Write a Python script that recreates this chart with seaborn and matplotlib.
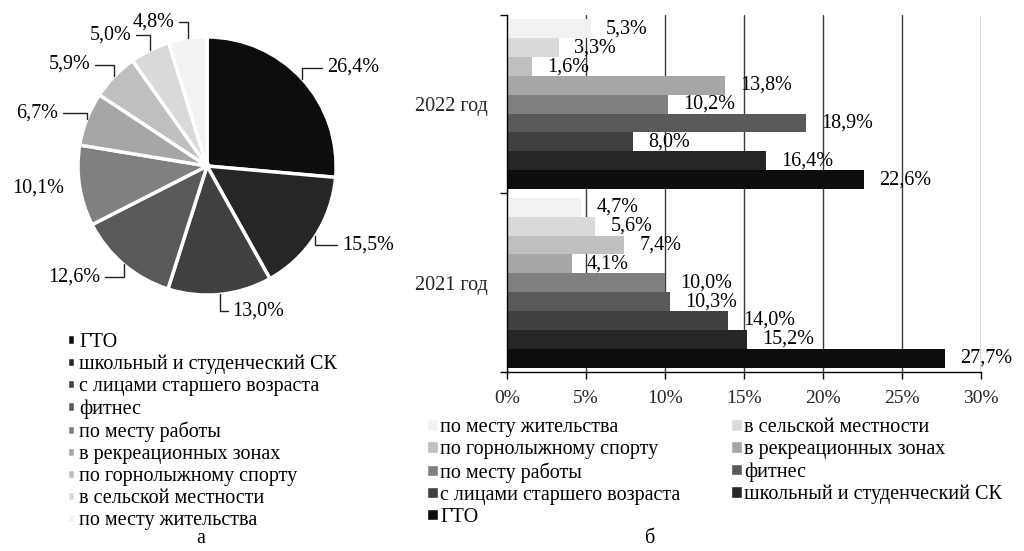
import numpy as np
import pandas as pd
import seaborn as sns
import matplotlib.pyplot as plt
from matplotlib.patches import Patch
from matplotlib.ticker import FuncFormatter

# категории (от ГТО к "по месту жительства")
categories = ["ГТО", "школьный и студенческий СК", "с лицами старшего возраста",
              "фитнес", "по месту работы", "в рекреационных зонах",
              "по горнолыжному спорту", "в сельской местности", "по месту жительства"]
colors = ["#0d0d0d", "#262626", "#404040", "#595959", "#808080",
          "#a6a6a6", "#bfbfbf", "#d9d9d9", "#f2f2f2"]

# а) круговая диаграмма
pie_values = [26.4, 15.5, 13.0, 12.6, 10.1, 6.7, 5.9, 5.0, 4.8]

# б) по годам
years = ["2022 год", "2021 год"]
values_2022 = [22.6, 16.4, 8.0, 18.9, 10.2, 13.8, 1.6, 3.3, 5.3]
values_2021 = [27.7, 15.2, 14.0, 10.3, 10.0, 4.1, 7.4, 5.6, 4.7]
x_ticks = [0, 5, 10, 15, 20, 25, 30]

FS = 14.5


def fmt_pct(v):
    return f"{v:.1f}%".replace(".", ",")


sns.set_theme(style="white")
plt.rcParams["font.family"] = ["Liberation Serif", "DejaVu Serif"]
plt.rcParams["font.size"] = FS
plt.rcParams["text.color"] = "#000000"

fig = plt.figure(figsize=(10.24, 5.51), dpi=100)

# ---- пирог ----
ax1 = fig.add_axes([0.0264, 0.372, 0.3516, 0.6534])
wedges, _ = ax1.pie(pie_values, colors=colors, startangle=90, counterclock=False,
                    wedgeprops=dict(edgecolor="white", linewidth=2.5))
for w, v in zip(wedges, pie_values):
    ang = np.deg2rad((w.theta1 + w.theta2) / 2)
    cx, cy = np.cos(ang), np.sin(ang)
    side = 1 if cx >= 0 else -1
    ha = "left" if side > 0 else "right"
    if abs(cy) < 0.2:
        # подпись рядом с сектором, без выноски
        ax1.text(1.12 * cx, 1.12 * cy, fmt_pct(v), ha=ha, va="center", fontsize=FS)
        continue
    tx, ty = 1.15 * cx + 0.08 * side, 1.13 * cy
    ax1.annotate(fmt_pct(v), xy=(cx, cy), xytext=(tx, ty), ha=ha, va="center",
                 fontsize=FS,
                 arrowprops=dict(arrowstyle="-", color="#222222", lw=1,
                                 connectionstyle="angle,angleA=0,angleB=90,rad=0",
                                 shrinkA=1, shrinkB=0))
ax1.set_xlim(-1.395, 1.395)
ax1.set_ylim(-1.395, 1.395)
ax1.set_aspect("equal")
ax1.axis("off")

fig.legend(wedges, categories, loc="upper left", bbox_to_anchor=(0.065, 0.396),
           frameon=False, fontsize=FS, handlelength=0.42, handleheight=0.42,
           handletextpad=0.22, labelspacing=0.15, borderpad=0, borderaxespad=0)

# ---- столбцы ----
ax2 = fig.add_axes([0.4951, 0.3249, 0.4629, 0.6479])
df = pd.DataFrame({
    "year": np.repeat(years, len(categories)),
    "category": categories * 2,
    "value": values_2022 + values_2021,
})
hue_order = categories[::-1]
palette = dict(zip(categories, colors))
sns.barplot(data=df, x="value", y="year", hue="category", order=years,
            hue_order=hue_order, palette=palette, orient="h", width=0.95,
            saturation=1, legend=False, linewidth=0, ax=ax2)

for cont in ax2.containers:
    ax2.bar_label(cont, labels=[fmt_pct(v) for v in cont.datavalues],
                  padding=11, fontsize=FS)

ax2.set_xlim(0, 30)
ax2.set_xticks(x_ticks)
ax2.xaxis.set_major_formatter(FuncFormatter(lambda x, p: f"{x:.0f}%"))
ax2.xaxis.grid(True, color="#3a3a3a", lw=1)
ax2.set_axisbelow(True)
ax2.set_ylim(1.5, -0.5)
ax2.set_yticks([-0.5, 0.5, 1.5])
ax2.set_yticklabels([])
ax2.set_yticks([0, 1], minor=True)
ax2.set_yticklabels(years, minor=True)
ax2.tick_params(axis="y", which="major", direction="out", length=5, width=1,
                color="black", left=True)
ax2.tick_params(axis="y", which="minor", length=0, pad=14, labelsize=FS)
ax2.tick_params(axis="x", direction="out", length=5, width=1, color="black",
                bottom=True, pad=8, labelsize=14)
ax2.set_xlabel("")
ax2.set_ylabel("")
for s in ["top", "right"]:
    ax2.spines[s].set_visible(False)
for s in ["left", "bottom"]:
    ax2.spines[s].set_color("black")
    ax2.spines[s].set_linewidth(1)

# легенда в два столбца, заполнение по строкам
order = [0, 2, 4, 6, 8, 1, 3, 5, 7]
handles = [Patch(facecolor=palette[hue_order[i]]) for i in order]
labels = [hue_order[i] for i in order]
fig.legend(handles, labels, loc="upper left", bbox_to_anchor=(0.417, 0.241), ncol=2,
           frameon=False, fontsize=FS, handlelength=0.55, handleheight=0.5,
           handletextpad=0.1, labelspacing=0.15, columnspacing=2.5,
           borderpad=0, borderaxespad=0)

fig.text(0.196, 0.006, "а", fontsize=FS, ha="center", va="bottom")
fig.text(0.635, 0.006, "б", fontsize=FS, ha="center", va="bottom")

fig.savefig("out.png", dpi=100)
